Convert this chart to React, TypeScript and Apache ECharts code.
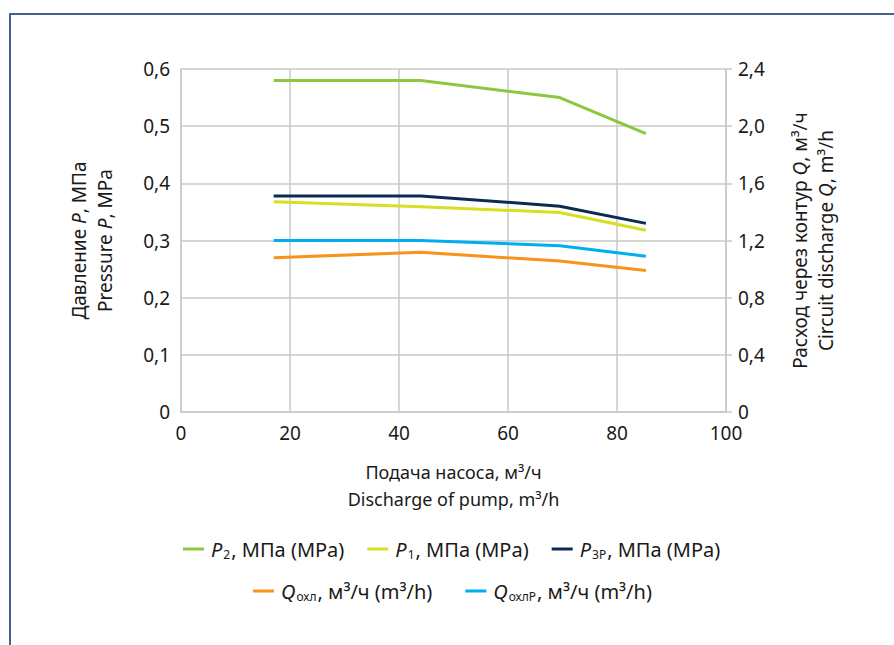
import React, { useEffect, useRef } from "react";
import * as echarts from "echarts";

const xValues = [17, 44, 69.5, 85.3];
const p2 = [0.58, 0.58, 0.55, 0.487];
const p1 = [0.368, 0.359, 0.349, 0.318];
const p3p = [0.378, 0.378, 0.36, 0.33];
const qOhl = [1.08, 1.117, 1.056, 0.99];
const qOhlP = [1.2, 1.2, 1.164, 1.09];

const seriesNames = ["P2", "P1", "P3P", "Qохл", "QохлР"];
const seriesColors = ["#8dc63f", "#d7df23", "#0d2b52", "#f7941d", "#00aeef"];
const legendLabels: Record<string, string> = {
  P2: "{i|P}{s|2}{n|, МПа (MPa)}",
  P1: "{i|P}{s|1}{n|, МПа (MPa)}",
  P3P: "{i|P}{s|3P}{n|, МПа (MPa)}",
  "Qохл": "{i|Q}{s|охл}{n|, м³/ч (m³/h)}",
  "QохлР": "{i|Q}{s|охлР}{n|, м³/ч (m³/h)}",
};

const FONT = "Noto Sans";
const GRID_COLOR = "#c8c8c8";
const TXT = "#1a1a1a";

const fmt = (v: number) => (v === 0 ? "0" : v.toFixed(1).replace(".", ","));

const legendRich = {
  n: { fontSize: 20, fontFamily: FONT, color: TXT, lineHeight: 22, verticalAlign: "middle" },
  i: { fontSize: 20, fontFamily: FONT, fontStyle: "italic", color: TXT, lineHeight: 22, verticalAlign: "middle" },
  s: { fontSize: 12, fontFamily: FONT, color: TXT, lineHeight: 22, verticalAlign: "bottom", padding: [0, 1, 0, 1] },
};

const nameRich = {
  n: { fontSize: 19, fontFamily: FONT, color: TXT, lineHeight: 26 },
  i: { fontSize: 19, fontFamily: FONT, fontStyle: "italic", color: TXT, lineHeight: 26 },
};

export default function App() {
  const ref = useRef<HTMLDivElement>(null);
  useEffect(() => {
    if (!ref.current) return;
    const chart = echarts.init(ref.current, null, { renderer: "svg" });
    const datas = [p2, p1, p3p, qOhl, qOhlP];
    const legendBase = {
      orient: "horizontal",
      icon: "rect",
      itemWidth: 21,
      itemHeight: 3,
      itemGap: 23,
      padding: 0,
      formatter: (name: string) => legendLabels[name],
      textStyle: { rich: legendRich, fontSize: 20, padding: [0, 0, 0, 2] },
    };
    const option: any = {
      animation: false,
      backgroundColor: "#ffffff",
      textStyle: { fontFamily: FONT },
      grid: { left: 181, right: 168, top: 69, bottom: 233, containLabel: false },
      graphic: [
        {
          type: "rect",
          shape: { x: 10, y: 14, width: 1000, height: 1000 },
          style: { fill: "none", stroke: "#46618a", lineWidth: 2 },
          silent: true,
        },
      ],
      xAxis: {
        type: "value",
        min: 0,
        max: 100,
        interval: 20,
        name: "Подача насоса, м³/ч\nDischarge of pump, m³/h",
        nameLocation: "middle",
        nameGap: 46,
        nameTextStyle: { fontSize: 18, fontFamily: FONT, color: TXT, lineHeight: 27 },
        axisLine: { show: true, lineStyle: { color: GRID_COLOR, width: 1.5 } },
        axisTick: { show: false },
        axisLabel: { fontSize: 19, fontFamily: FONT, color: TXT, margin: 12, lineHeight: 18 },
        splitLine: { show: true, lineStyle: { color: GRID_COLOR, width: 1.5 } },
      },
      yAxis: [
        {
          type: "value",
          position: "left",
          min: 0,
          max: 0.6,
          interval: 0.1,
          name: "{n|Давление }{i|P}{n|, МПа}\n{n|Pressure }{i|P}{n|, MPa}",
          nameLocation: "middle",
          nameGap: 63,
          nameTextStyle: { rich: nameRich, fontSize: 19, lineHeight: 26 },
          axisLine: { show: true, lineStyle: { color: GRID_COLOR, width: 1.5 } },
          axisTick: { show: false },
          axisLabel: { fontSize: 19, fontFamily: FONT, color: TXT, margin: 11, lineHeight: 18, formatter: fmt },
          splitLine: { show: true, lineStyle: { color: GRID_COLOR, width: 1.5 } },
        },
        {
          type: "value",
          position: "right",
          min: 0,
          max: 2.4,
          interval: 0.4,
          name: "{n|Расход через контур }{i|Q}{n|, м³/ч}\n{n|Circuit discharge }{i|Q}{n|, m³/h}",
          nameLocation: "middle",
          nameRotate: 90,
          nameGap: 61,
          nameTextStyle: { rich: nameRich, fontSize: 19, lineHeight: 26 },
          axisLine: { show: true, lineStyle: { color: GRID_COLOR, width: 1.5 } },
          axisTick: { show: true, length: 6, lineStyle: { color: GRID_COLOR, width: 1.5 } },
          axisLabel: { fontSize: 19, fontFamily: FONT, color: TXT, margin: 12, lineHeight: 18, formatter: fmt },
          splitLine: { show: false },
        },
      ],
      legend: [
        { ...legendBase, data: seriesNames.slice(0, 3), left: 183, top: 539 },
        { ...legendBase, data: seriesNames.slice(3), left: 253, top: 581, itemGap: 33 },
      ],
      series: seriesNames.map((name, k) => ({
        name,
        type: "line",
        yAxisIndex: k >= 3 ? 1 : 0,
        data: xValues.map((x, j) => [x, datas[k][j]]),
        showSymbol: false,
        symbol: "none",
        lineStyle: { color: seriesColors[k], width: 3 },
        itemStyle: { color: seriesColors[k] },
        z: 5 - k,
      })),
    };
    chart.setOption(option);
    return () => chart.dispose();
  }, []);
  return (
    <div
      ref={ref}
      style={{ position: "fixed", left: 0, top: 0, width: 894, height: 645 }}
    />
  );
}
